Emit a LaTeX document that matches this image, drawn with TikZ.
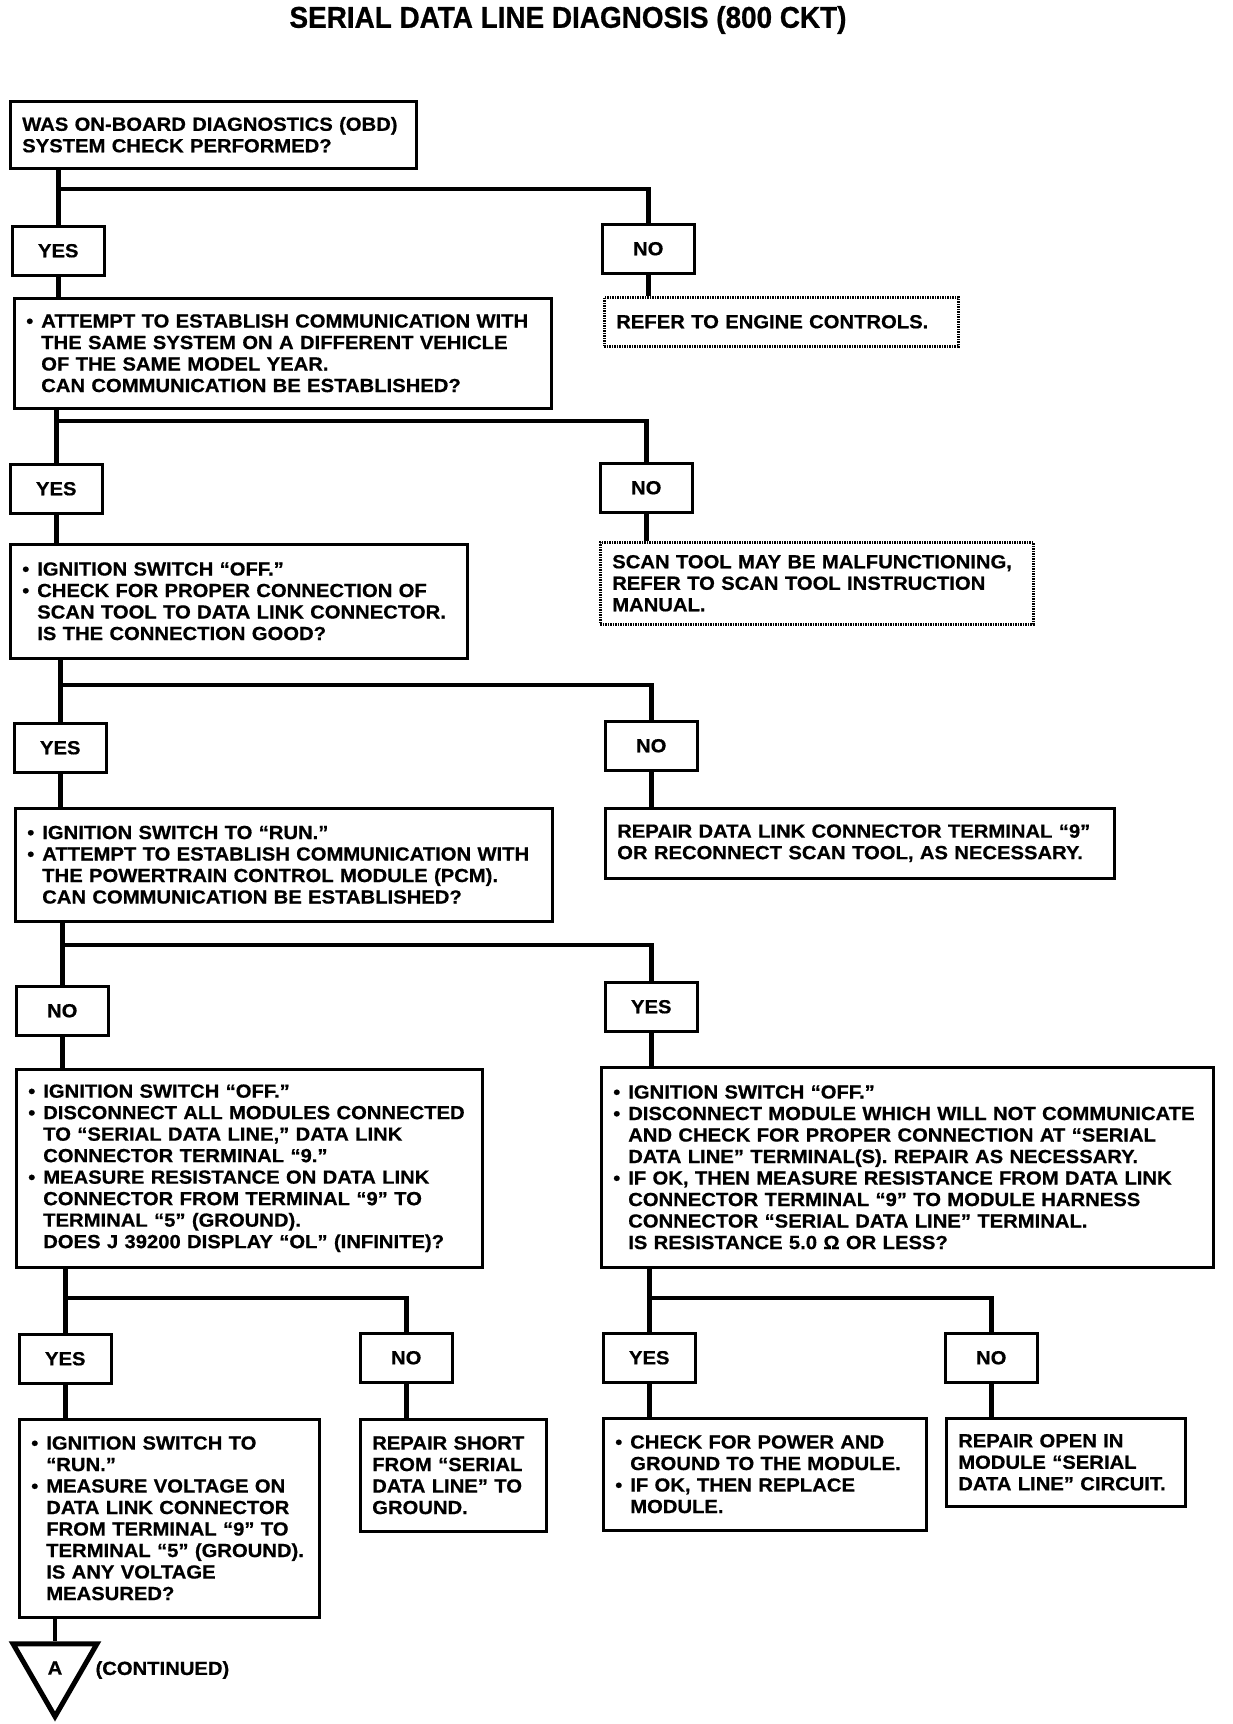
\documentclass[tikz,border=0pt]{standalone}
\usepackage{fontspec}
\setmainfont{Liberation Sans}[FakeStretch=1.065, BoldFeatures={FakeBold=0.6}]
\newfontfamily\titlefont{Liberation Sans}[FakeStretch=0.93, BoldFeatures={FakeBold=0.8}]
\usetikzlibrary{positioning,shapes.geometric}

\newcommand{\bul}{\makebox[15pt][l]{\textbullet}}
\newcommand{\ind}{\hspace*{15pt}}

\tikzset{
  boxfont/.style={font=\fontsize{19}{21.5}\selectfont\bfseries},
  stepbox/.style={draw, line width=2.5pt, anchor=north west, align=left, inner xsep=12pt, boxfont},
  notebox/.style={stepbox, line width=2.5pt, dash pattern=on 1.5pt off 1pt},
  ansbox/.style={draw, line width=2.5pt, anchor=north west, minimum width=92pt, minimum height=49pt, boxfont},
  link/.style={line width=4.5pt},
}

\begin{document}
\begin{tikzpicture}[x=1pt,y=-1pt]
\useasboundingbox (0,0) rectangle (1232,1724);
\node[font=\titlefont\bfseries\fontsize{30}{30}\selectfont] (title) at (568,20) {SERIAL DATA LINE DIAGNOSIS (800 CKT)};

% questions and actions
\node[stepbox, minimum width=406pt, minimum height=67pt, text width=382pt] (obd) at (9,100)
  {WAS ON-BOARD DIAGNOSTICS (OBD)\\SYSTEM CHECK PERFORMED?};
\node[stepbox, minimum width=537pt, minimum height=110pt, text width=513pt] (attempt) at (13,297)
  {\bul ATTEMPT TO ESTABLISH COMMUNICATION WITH\\\ind THE SAME SYSTEM ON A DIFFERENT VEHICLE\\\ind OF THE SAME MODEL YEAR.\\\ind CAN COMMUNICATION BE ESTABLISHED?};
\node[notebox, minimum width=354pt, minimum height=49pt, text width=330pt] (engine) at (603,296)
  {REFER TO ENGINE CONTROLS.};
\node[stepbox, minimum width=457pt, minimum height=114pt, text width=433pt] (conn) at (9,543)
  {\bul IGNITION SWITCH “OFF.”\\\bul CHECK FOR PROPER CONNECTION OF\\\ind SCAN TOOL TO DATA LINK CONNECTOR.\\\ind IS THE CONNECTION GOOD?};
\node[notebox, minimum width=433pt, minimum height=82pt, text width=409pt] (scantool) at (599,541)
  {SCAN TOOL MAY BE MALFUNCTIONING,\\REFER TO SCAN TOOL INSTRUCTION\\MANUAL.};
\node[stepbox, minimum width=537pt, minimum height=113pt, text width=513pt] (run) at (14,807)
  {\bul IGNITION SWITCH TO “RUN.”\\\bul ATTEMPT TO ESTABLISH COMMUNICATION WITH\\\ind THE POWERTRAIN CONTROL MODULE (PCM).\\\ind CAN COMMUNICATION BE ESTABLISHED?};
\node[stepbox, minimum width=509pt, minimum height=70pt, text width=485pt] (repairdlc) at (604,807)
  {REPAIR DATA LINK CONNECTOR TERMINAL “9”\\OR RECONNECT SCAN TOOL, AS NECESSARY.};
\node[stepbox, minimum width=466pt, minimum height=198pt, text width=442pt] (resist) at (15,1068)
  {\bul IGNITION SWITCH “OFF.”\\\bul DISCONNECT ALL MODULES CONNECTED\\\ind TO “SERIAL DATA LINE,” DATA LINK\\\ind CONNECTOR TERMINAL “9.”\\\bul MEASURE RESISTANCE ON DATA LINK\\\ind CONNECTOR FROM TERMINAL “9” TO\\\ind TERMINAL “5” (GROUND).\\\ind DOES J 39200 DISPLAY “OL” (INFINITE)?};
\node[stepbox, minimum width=612pt, minimum height=200pt, text width=588pt] (module) at (600,1066)
  {\bul IGNITION SWITCH “OFF.”\\\bul DISCONNECT MODULE WHICH WILL NOT COMMUNICATE\\\ind AND CHECK FOR PROPER CONNECTION AT “SERIAL\\\ind DATA LINE” TERMINAL(S). REPAIR AS NECESSARY.\\\bul IF OK, THEN MEASURE RESISTANCE FROM DATA LINK\\\ind CONNECTOR TERMINAL “9” TO MODULE HARNESS\\\ind CONNECTOR “SERIAL DATA LINE” TERMINAL.\\\ind IS RESISTANCE 5.0 Ω OR LESS?};
\node[stepbox, minimum width=300pt, minimum height=198pt, text width=276pt] (voltage) at (18,1418)
  {\bul IGNITION SWITCH TO\\\ind “RUN.”\\\bul MEASURE VOLTAGE ON\\\ind DATA LINK CONNECTOR\\\ind FROM TERMINAL “9” TO\\\ind TERMINAL “5” (GROUND).\\\ind IS ANY VOLTAGE\\\ind MEASURED?};
\node[stepbox, minimum width=186pt, minimum height=112pt, text width=162pt] (short) at (359,1418)
  {REPAIR SHORT\\FROM “SERIAL\\DATA LINE” TO\\GROUND.};
\node[stepbox, minimum width=323pt, minimum height=112pt, text width=299pt] (power) at (602,1417)
  {\bul CHECK FOR POWER AND\\\ind GROUND TO THE MODULE.\\\bul IF OK, THEN REPLACE\\\ind MODULE.};
\node[stepbox, minimum width=239pt, minimum height=88pt, text width=215pt] (open) at (945,1417)
  {REPAIR OPEN IN\\MODULE “SERIAL\\DATA LINE” CIRCUIT.};

% yes / no
\node[ansbox] (yes1) at (11,225) {YES};
\node[ansbox] (no1) at (601,223) {NO};
\node[ansbox] (yes2) at (9,463) {YES};
\node[ansbox] (no2) at (599,462) {NO};
\node[ansbox] (yes3) at (13,722) {YES};
\node[ansbox] (no3) at (604,720) {NO};
\node[ansbox] (no4) at (15,985) {NO};
\node[ansbox] (yes4) at (604,981) {YES};
\node[ansbox] (yes5) at (18,1333) {YES};
\node[ansbox] (no5) at (359,1332) {NO};
\node[ansbox] (yes6) at (602,1332) {YES};
\node[ansbox] (no6) at (944,1332) {NO};

% continuation
\node[draw, regular polygon, regular polygon sides=3, shape border rotate=180, line width=5pt,
  minimum size=97pt, inner sep=0pt, boxfont] (cont) at (55,1668) {A};
\node[boxfont, anchor=west] (contnote) at (92,1670) {(CONTINUED)};

\coordinate (bar1) at (0,189);
\coordinate (bar2) at (0,421);
\coordinate (bar3) at (0,685);
\coordinate (bar4) at (0,945);
\coordinate (bar5) at (0,1298);

\draw[link] (obd.south -| yes1) -- (yes1.north);
\draw[link] (yes1 |- bar1) -| (no1.north);
\draw[link] (yes1.south) -- (yes1.south |- attempt.north);
\draw[link] (no1.south) -- (no1.south |- engine.north);

\draw[link] (attempt.south -| yes2) -- (yes2.north);
\draw[link] (yes2 |- bar2) -| (no2.north);
\draw[link] (yes2.south) -- (yes2.south |- conn.north);
\draw[link] (no2.south) -- (no2.south |- scantool.north);

\draw[link] (conn.south -| yes3) -- (yes3.north);
\draw[link] (yes3 |- bar3) -| (no3.north);
\draw[link] (yes3.south) -- (yes3.south |- run.north);
\draw[link] (no3.south) -- (no3.south |- repairdlc.north);

\draw[link] (run.south -| no4) -- (no4.north);
\draw[link] (no4 |- bar4) -| (yes4.north);
\draw[link] (no4.south) -- (no4.south |- resist.north);
\draw[link] (yes4.south) -- (yes4.south |- module.north);

\draw[link] (resist.south -| yes5) -- (yes5.north);
\draw[link] (yes5 |- bar5) -| (no5.north);
\draw[link] (module.south -| yes6) -- (yes6.north);
\draw[link] (yes6 |- bar5) -| (no6.north);
\draw[link] (yes5.south) -- (yes5.south |- voltage.north);
\draw[link] (no5.south) -- (no5.south |- short.north);
\draw[link] (yes6.south) -- (yes6.south |- power.north);
\draw[link] (no6.south) -- (no6.south |- open.north);

\draw[link] (voltage.south -| cont.north) -- (cont.north);
\end{tikzpicture}
\end{document}
